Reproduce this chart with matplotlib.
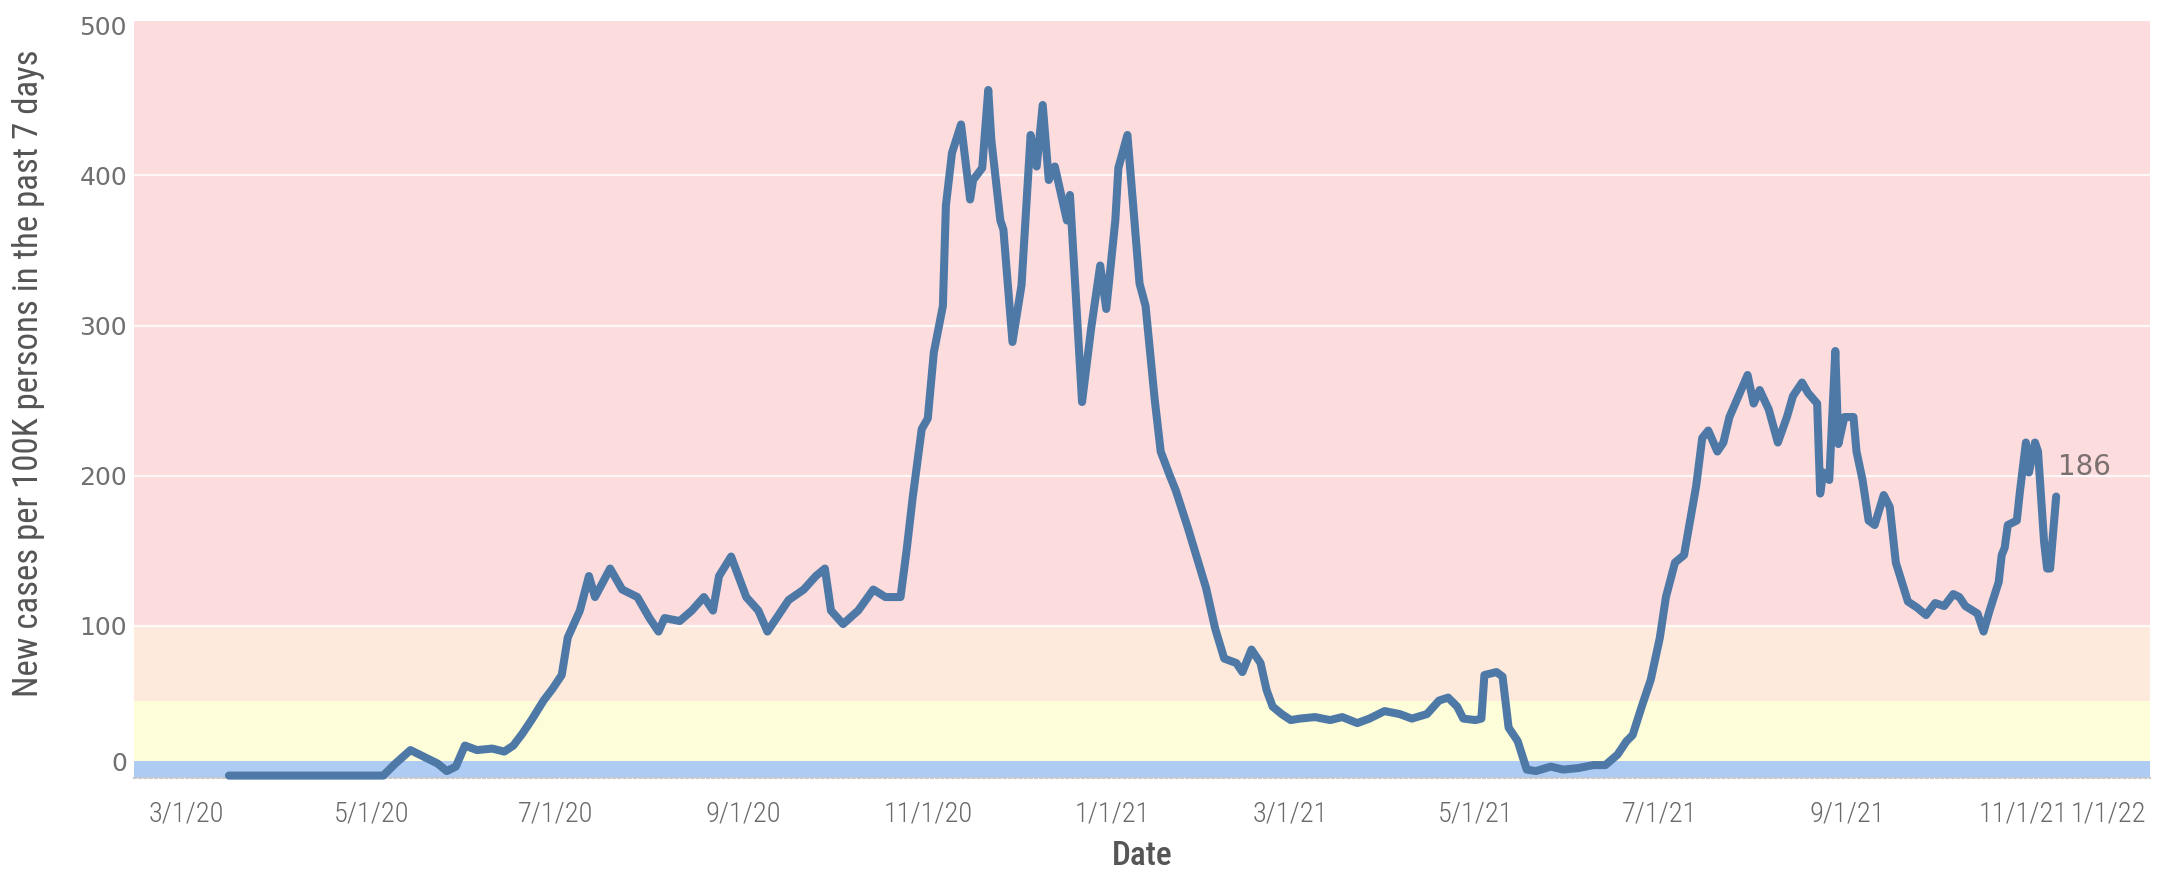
import matplotlib
matplotlib.use("Agg")
import numpy as np
import pandas as pd
import matplotlib.pyplot as plt

# days since 2020-03-01 and 7-day case rate per 100K
days = [14, 65, 69, 74, 78, 83, 86, 89, 92, 96, 101, 105, 108, 111, 114, 118, 121, 124, 126, 130,
        133, 135, 140, 144, 149, 153, 156, 158, 163, 167, 171, 174, 176, 180, 185, 189, 192, 195, 199, 204,
        208, 211, 213, 217, 222, 227, 231, 236, 238, 240, 243, 245, 247, 250, 251, 253, 256, 259, 260, 263,
        265, 266, 269, 270, 273, 276, 279, 281, 283, 285, 287, 291, 292, 296, 299, 302, 304, 307, 308, 311,
        315, 317, 320, 322, 325, 327, 331, 334, 337, 340, 343, 347, 349, 352, 355, 357, 359, 362, 365, 368,
        373, 378, 382, 387, 391, 396, 401, 405, 410, 414, 417, 420, 422, 426, 428, 429, 433, 435, 437, 440,
        443, 446, 451, 455, 460, 465, 469, 473, 476, 478, 481, 484, 487, 489, 492, 495, 497, 499, 501, 503,
        506, 508, 510, 513, 516, 518, 520, 523, 526, 529, 531, 534, 536, 539, 540, 541, 543, 545, 546, 548,
        551, 552, 554, 556, 558, 561, 563, 565, 569, 572, 575, 578, 581, 584, 586, 588, 592, 594, 596, 599,
        600, 601, 602, 605, 606, 608, 609, 611, 612, 614, 615, 616, 618]
rate = [0, 0, 8, 17, 13, 8, 3, 6, 20, 17, 18, 16, 20, 28, 37, 50, 58, 67, 92, 110,
        133, 119, 138, 124, 119, 105, 96, 105, 103, 110, 119, 110, 133, 146, 119, 110, 96, 105, 117, 124,
        133, 138, 110, 101, 110, 124, 119, 119, 150, 185, 231, 238, 282, 313, 380, 415, 434, 384, 397, 405,
        457, 424, 370, 364, 289, 327, 427, 406, 447, 397, 406, 370, 387, 249, 298, 340, 311, 370, 405, 427,
        328, 313, 251, 216, 200, 190, 165, 145, 125, 98, 78, 75, 69, 84, 75, 57, 46, 41, 37, 38,
        39, 37, 39, 35, 38, 43, 41, 38, 41, 50, 52, 46, 38, 37, 38, 67, 69, 66, 32, 23,
        4, 3, 6, 4, 5, 7, 7, 14, 23, 27, 46, 64, 92, 119, 142, 147, 170, 193, 225, 230,
        216, 222, 239, 253, 267, 248, 257, 244, 222, 239, 253, 262, 255, 248, 188, 202, 197, 283, 221, 239,
        239, 216, 197, 170, 167, 187, 179, 142, 116, 112, 107, 115, 113, 121, 119, 113, 108, 96, 110, 129,
        147, 152, 167, 170, 189, 222, 202, 222, 216, 156, 138, 138, 186]

base = pd.Timestamp("2020-03-01")
dates = base + pd.to_timedelta(days, unit="D")

tick_dates = ["2020-03-01", "2020-05-01", "2020-07-01", "2020-09-01", "2020-11-01", "2021-01-01",
              "2021-03-01", "2021-05-01", "2021-07-01", "2021-09-01", "2021-11-01"]
tick_labels = ["3/1/20", "5/1/20", "7/1/20", "9/1/20", "11/1/20", "1/1/21",
               "3/1/21", "5/1/21", "7/1/21", "9/1/21", "11/1/21"]
y_ticks = [0, 100, 200, 300, 400, 500]

# risk bands: (low, high, colour)
bands = [(-1.5, 10, "#aecbf4"), (10, 50, "#fefdd9"), (50, 100, "#fdeadc"), (100, 503, "#fddcdd")]

narrow = ["Liberation Sans Narrow", "Roboto Condensed", "DejaVu Sans"]
xfont = dict(fontsize=20.5, color="#6a6a6a", family=narrow, fontstretch="condensed",
             fontweight="light")

fig = plt.figure(figsize=(21.71, 8.73), dpi=100)
ax = fig.add_axes([0.0617, 0.109, 0.9286, 0.867])

for lo, hi, col in bands:
    ax.axhspan(lo, hi, color=col, lw=0, zorder=0)

for yv in y_ticks[1:-1]:
    ax.axhline(yv, color="white", lw=1.6, alpha=0.8, zorder=1)

ax.plot(dates, rate, color="#4e79a7", lw=5.8, solid_joinstyle="round", solid_capstyle="round",
        zorder=3, clip_on=False)

ax.annotate(str(rate[-1]), (dates[-1], rate[-1]), xytext=(2, 30), textcoords="offset pixels",
            fontsize=20, color="#7a7070", va="center", ha="left")

ax.set_xlim(base + pd.Timedelta(days=-17.4), base + pd.Timedelta(days=649))
ax.set_ylim(-1.5, 503)

ax.set_xticks(pd.to_datetime(tick_dates))
ax.set_xticklabels(tick_labels[:-1] + [""], **xfont)
# last date label sits a bit left of its tick, the edge label is squeezed in after it
ax.annotate(tick_labels[-1], xy=(pd.Timestamp(tick_dates[-1]), 0),
            xycoords=("data", "axes fraction"), xytext=(-6, -16), textcoords="offset points",
            ha="center", va="top", **xfont)
ax.annotate("1/1/22", xy=(1, 0), xycoords="axes fraction", xytext=(-3, -16),
            textcoords="offset points", ha="right", va="top", **xfont)

ax.set_yticks(y_ticks)
ax.set_yticklabels([str(v) for v in y_ticks], fontsize=18, color="#707070")
ax.get_yticklabels()[0].set_va("bottom")
ax.tick_params(axis="both", length=0)
ax.tick_params(axis="x", pad=16)
ax.tick_params(axis="y", pad=5)

for s in ["top", "right", "left"]:
    ax.spines[s].set_visible(False)
ax.spines["bottom"].set_color("#c8c8c8")
ax.spines["bottom"].set_linestyle((0, (1, 1.5)))
ax.spines["bottom"].set_linewidth(1.5)

fig.text(0.013, 0.572, "New cases per 100K persons in the past 7 days", rotation=90,
         ha="center", va="center", fontsize=25, color="#555555", family=narrow,
         fontstretch="condensed")
fig.text(0.526, 0.02, "Date", ha="center", va="center", fontsize=24, color="#555555",
         family=narrow, fontstretch="condensed", fontweight="medium")

fig.savefig("out.png", dpi=100)
